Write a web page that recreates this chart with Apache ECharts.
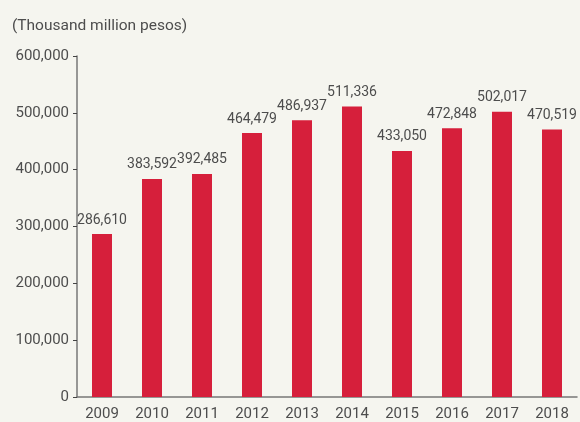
<!DOCTYPE html>
<html>
<head>
<meta charset="utf-8">
<script src="https://cdn.jsdelivr.net/npm/echarts@6/dist/echarts.min.js"></script>
<style>
  html, body { margin: 0; padding: 0; background: #f5f5ef; }
  #chart { width: 580px; height: 422px; }
</style>
</head>
<body>
<div id="chart"></div>
<script>
// Annual totals, thousand million pesos
const years = ['2009', '2010', '2011', '2012', '2013', '2014', '2015', '2016', '2017', '2018'];
const totals = [286610, 383592, 392485, 464479, 486937, 511336, 433050, 472848, 502017, 470519];
const yTicks = [0, 100000, 200000, 300000, 400000, 500000, 600000];

const textColor = '#4d4d4d';
const font = 'Roboto, "Open Sans", sans-serif';
const fmt = v => v.toLocaleString('en-US');

const chart = echarts.init(document.getElementById('chart'), null, { renderer: 'canvas' });
chart.setOption({
  backgroundColor: '#f5f5ef',
  animation: false,
  textStyle: { fontFamily: font },
  graphic: [{
    type: 'text', left: 12, top: 18,
    style: { text: '(Thousand million pesos)', fill: textColor, font: '15.5px ' + font }
  }],
  grid: { left: 77, right: 3, top: 56, bottom: 25, containLabel: false },
  xAxis: {
    type: 'category',
    data: years,
    axisLine: { lineStyle: { color: '#777', width: 1.5 } },
    axisTick: { inside: true, length: 5, lineStyle: { color: '#444' } },
    axisLabel: { color: textColor, fontSize: 15, fontFamily: font, margin: 10 }
  },
  yAxis: {
    type: 'value',
    min: yTicks[0], max: yTicks[yTicks.length - 1], interval: 100000,
    splitLine: { show: false },
    axisLine: { show: true, lineStyle: { color: '#777', width: 1.5 } },
    axisTick: { show: true, length: 4, lineStyle: { color: '#444' } },
    axisLabel: { color: textColor, fontSize: 15, fontFamily: font, margin: 8, formatter: v => fmt(v) }
  },
  series: [{
    type: 'bar',
    data: totals,
    barWidth: 20,
    itemStyle: { color: '#d61f3b' },
    label: {
      show: true, position: 'top', distance: 7,
      color: textColor, fontSize: 14, fontFamily: font,
      formatter: p => fmt(p.value)
    }
  }]
});
</script>
</body>
</html>
